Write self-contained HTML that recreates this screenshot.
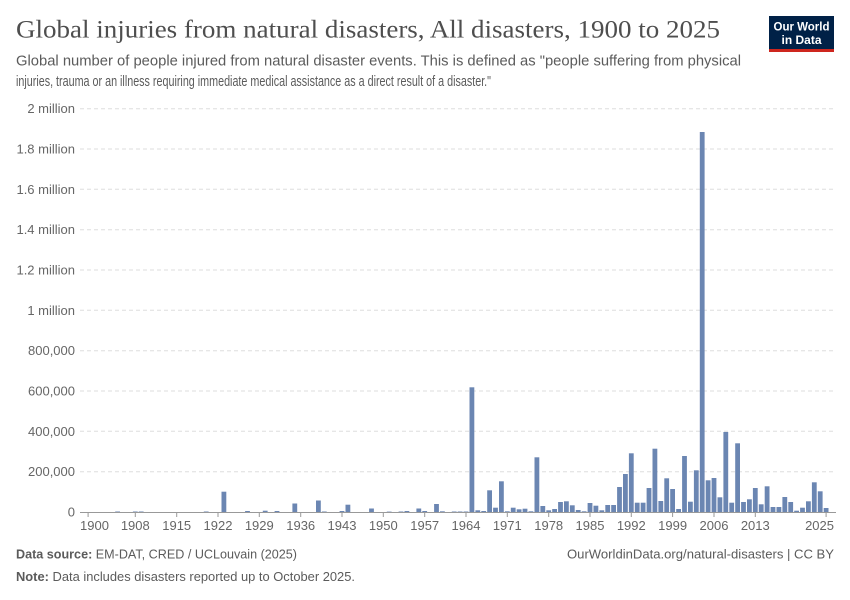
<!DOCTYPE html>
<html><head><meta charset="utf-8"><style>
html,body{margin:0;padding:0;background:#fff;}
svg{display:block;}
text{font-family:"Liberation Sans",sans-serif;}
</style></head><body>
<svg width="850" height="600" viewBox="0 0 850 600" xmlns="http://www.w3.org/2000/svg">
<rect width="850" height="600" fill="#fff"/>
<text x="16" y="37.5" font-family="Liberation Serif, serif" style="font-family:'Liberation Serif',serif" font-size="25" fill="#4e4e4e" textLength="704" lengthAdjust="spacingAndGlyphs">Global injuries from natural disasters, All disasters, 1900 to 2025</text>
<text x="16" y="65.5" font-size="15" fill="#5b5b5b" textLength="725" lengthAdjust="spacingAndGlyphs">Global number of people injured from natural disaster events. This is defined as "people suffering from physical</text>
<text x="16" y="86" font-size="15" fill="#5b5b5b" textLength="475" lengthAdjust="spacingAndGlyphs">injuries, trauma or an illness requiring immediate medical assistance as a direct result of a disaster."</text>
<rect x="769" y="16" width="65" height="33" fill="#002147"/>
<rect x="769" y="49" width="65" height="3" fill="#ce261e"/>
<text x="801.5" y="30.5" font-size="11.5" fill="#fff" text-anchor="middle" font-weight="bold" textLength="56" lengthAdjust="spacingAndGlyphs">Our World</text>
<text x="801.5" y="44" font-size="11.5" fill="#fff" text-anchor="middle" font-weight="bold" textLength="40" lengthAdjust="spacingAndGlyphs">in Data</text>
<g stroke="#dddddd" stroke-width="1" stroke-dasharray="4,3">
<line x1="80" x2="836" y1="108.7" y2="108.7"/>
<line x1="80" x2="836" y1="149" y2="149"/>
<line x1="80" x2="836" y1="189.3" y2="189.3"/>
<line x1="80" x2="836" y1="229.7" y2="229.7"/>
<line x1="80" x2="836" y1="270" y2="270"/>
<line x1="80" x2="836" y1="310.3" y2="310.3"/>
<line x1="80" x2="836" y1="350.7" y2="350.7"/>
<line x1="80" x2="836" y1="391" y2="391"/>
<line x1="80" x2="836" y1="431.3" y2="431.3"/>
<line x1="80" x2="836" y1="471.7" y2="471.7"/>
</g>
<g font-size="13" fill="#666" text-anchor="end">
<text x="75" y="113.2">2 million</text>
<text x="75" y="153.5">1.8 million</text>
<text x="75" y="193.8">1.6 million</text>
<text x="75" y="234.2">1.4 million</text>
<text x="75" y="274.5">1.2 million</text>
<text x="75" y="314.8">1 million</text>
<text x="75" y="355.2">800,000</text>
<text x="75" y="395.5">600,000</text>
<text x="75" y="435.8">400,000</text>
<text x="75" y="476.2">200,000</text>
<text x="75" y="516.5">0</text>
</g>
<g fill="#6b86b2">
<rect x="115.2" y="511.5" width="4.8" height="0.5"/>
<rect x="132.9" y="511.5" width="4.8" height="0.5"/>
<rect x="138.8" y="511.5" width="4.8" height="0.5"/>
<rect x="203.8" y="511.5" width="4.8" height="0.5"/>
<rect x="221.5" y="491.7" width="4.8" height="20.3"/>
<rect x="245.1" y="511" width="4.8" height="1"/>
<rect x="262.8" y="510.7" width="4.8" height="1.3"/>
<rect x="274.6" y="511" width="4.8" height="1"/>
<rect x="292.4" y="503.5" width="4.8" height="8.5"/>
<rect x="316.0" y="500.5" width="4.8" height="11.5"/>
<rect x="321.9" y="511.5" width="4.8" height="0.5"/>
<rect x="339.6" y="511" width="4.8" height="1"/>
<rect x="345.5" y="504.7" width="4.8" height="7.3"/>
<rect x="369.1" y="508.5" width="4.8" height="3.5"/>
<rect x="386.8" y="511.6" width="4.8" height="0.4"/>
<rect x="398.6" y="511.5" width="4.8" height="0.5"/>
<rect x="404.5" y="511" width="4.8" height="1"/>
<rect x="416.4" y="508.5" width="4.8" height="3.5"/>
<rect x="422.3" y="511" width="4.8" height="1"/>
<rect x="434.1" y="504" width="4.8" height="8"/>
<rect x="440.0" y="511.3" width="4.8" height="0.7"/>
<rect x="451.8" y="511.5" width="4.8" height="0.5"/>
<rect x="457.7" y="511.5" width="4.8" height="0.5"/>
<rect x="463.6" y="511.5" width="4.8" height="0.5"/>
<rect x="469.5" y="387.3" width="4.8" height="124.7"/>
<rect x="475.4" y="510.3" width="4.8" height="1.7"/>
<rect x="481.3" y="511" width="4.8" height="1"/>
<rect x="487.2" y="490.3" width="4.8" height="21.7"/>
<rect x="493.1" y="507.7" width="4.8" height="4.3"/>
<rect x="499.0" y="481.3" width="4.8" height="30.7"/>
<rect x="504.9" y="511.3" width="4.8" height="0.7"/>
<rect x="510.8" y="507.7" width="4.8" height="4.3"/>
<rect x="516.7" y="509.3" width="4.8" height="2.7"/>
<rect x="522.6" y="508.7" width="4.8" height="3.3"/>
<rect x="528.5" y="511.3" width="4.8" height="0.7"/>
<rect x="534.5" y="457.3" width="4.8" height="54.7"/>
<rect x="540.4" y="506" width="4.8" height="6"/>
<rect x="546.3" y="510.3" width="4.8" height="1.7"/>
<rect x="552.2" y="509" width="4.8" height="3"/>
<rect x="558.1" y="502" width="4.8" height="10"/>
<rect x="564.0" y="501.3" width="4.8" height="10.7"/>
<rect x="569.9" y="505.3" width="4.8" height="6.7"/>
<rect x="575.8" y="510" width="4.8" height="2"/>
<rect x="581.7" y="511.3" width="4.8" height="0.7"/>
<rect x="587.6" y="503" width="4.8" height="9"/>
<rect x="593.5" y="505.7" width="4.8" height="6.3"/>
<rect x="599.4" y="510.3" width="4.8" height="1.7"/>
<rect x="605.3" y="505" width="4.8" height="7"/>
<rect x="611.2" y="505" width="4.8" height="7"/>
<rect x="617.1" y="487" width="4.8" height="25"/>
<rect x="623.0" y="474" width="4.8" height="38"/>
<rect x="628.9" y="453.3" width="4.8" height="58.7"/>
<rect x="634.8" y="502.7" width="4.8" height="9.3"/>
<rect x="640.7" y="502.7" width="4.8" height="9.3"/>
<rect x="646.6" y="488" width="4.8" height="24"/>
<rect x="652.5" y="448.7" width="4.8" height="63.3"/>
<rect x="658.4" y="501" width="4.8" height="11"/>
<rect x="664.3" y="478.3" width="4.8" height="33.7"/>
<rect x="670.2" y="489" width="4.8" height="23"/>
<rect x="676.2" y="509" width="4.8" height="3"/>
<rect x="682.1" y="456" width="4.8" height="56"/>
<rect x="688.0" y="501.7" width="4.8" height="10.3"/>
<rect x="693.9" y="470.3" width="4.8" height="41.7"/>
<rect x="699.8" y="132" width="4.8" height="380"/>
<rect x="705.7" y="480.3" width="4.8" height="31.7"/>
<rect x="711.6" y="478" width="4.8" height="34"/>
<rect x="717.5" y="497.3" width="4.8" height="14.7"/>
<rect x="723.4" y="432" width="4.8" height="80"/>
<rect x="729.3" y="502.7" width="4.8" height="9.3"/>
<rect x="735.2" y="443.3" width="4.8" height="68.7"/>
<rect x="741.1" y="502" width="4.8" height="10"/>
<rect x="747.0" y="499.3" width="4.8" height="12.7"/>
<rect x="752.9" y="488" width="4.8" height="24"/>
<rect x="758.8" y="504.3" width="4.8" height="7.7"/>
<rect x="764.7" y="486.3" width="4.8" height="25.7"/>
<rect x="770.6" y="507" width="4.8" height="5"/>
<rect x="776.5" y="507" width="4.8" height="5"/>
<rect x="782.4" y="497" width="4.8" height="15"/>
<rect x="788.3" y="502" width="4.8" height="10"/>
<rect x="794.2" y="510.7" width="4.8" height="1.3"/>
<rect x="800.1" y="507.7" width="4.8" height="4.3"/>
<rect x="806.0" y="501.3" width="4.8" height="10.7"/>
<rect x="811.9" y="482.3" width="4.8" height="29.7"/>
<rect x="817.8" y="491.3" width="4.8" height="20.7"/>
<rect x="823.7" y="508" width="4.8" height="4"/>
</g>
<line x1="80" x2="836" y1="512.5" y2="512.5" stroke="#999" stroke-width="1"/>
<g stroke="#999" stroke-width="1">
<line x1="88.1" x2="88.1" y1="512" y2="517"/>
<line x1="135.3" x2="135.3" y1="512" y2="517"/>
<line x1="176.7" x2="176.7" y1="512" y2="517"/>
<line x1="218.0" x2="218.0" y1="512" y2="517"/>
<line x1="259.3" x2="259.3" y1="512" y2="517"/>
<line x1="300.7" x2="300.7" y1="512" y2="517"/>
<line x1="342.0" x2="342.0" y1="512" y2="517"/>
<line x1="383.3" x2="383.3" y1="512" y2="517"/>
<line x1="424.7" x2="424.7" y1="512" y2="517"/>
<line x1="466.0" x2="466.0" y1="512" y2="517"/>
<line x1="507.3" x2="507.3" y1="512" y2="517"/>
<line x1="548.7" x2="548.7" y1="512" y2="517"/>
<line x1="590.0" x2="590.0" y1="512" y2="517"/>
<line x1="631.3" x2="631.3" y1="512" y2="517"/>
<line x1="672.6" x2="672.6" y1="512" y2="517"/>
<line x1="714.0" x2="714.0" y1="512" y2="517"/>
<line x1="755.3" x2="755.3" y1="512" y2="517"/>
<line x1="826.1" x2="826.1" y1="512" y2="517"/>
</g>
<g font-size="13" fill="#666" text-anchor="middle">
<text x="80" y="530" text-anchor="start">1900</text>
<text x="135.3" y="530">1908</text>
<text x="176.7" y="530">1915</text>
<text x="218.0" y="530">1922</text>
<text x="259.3" y="530">1929</text>
<text x="300.7" y="530">1936</text>
<text x="342.0" y="530">1943</text>
<text x="383.3" y="530">1950</text>
<text x="424.7" y="530">1957</text>
<text x="466.0" y="530">1964</text>
<text x="507.3" y="530">1971</text>
<text x="548.7" y="530">1978</text>
<text x="590.0" y="530">1985</text>
<text x="631.3" y="530">1992</text>
<text x="672.6" y="530">1999</text>
<text x="714.0" y="530">2006</text>
<text x="755.3" y="530">2013</text>
<text x="834" y="530" text-anchor="end">2025</text>
</g>
<text x="16" y="558.5" font-size="13" fill="#5b5b5b" textLength="281" lengthAdjust="spacingAndGlyphs"><tspan font-weight="bold">Data source:</tspan> EM-DAT, CRED / UCLouvain (2025)</text>
<text x="834" y="558.5" font-size="13" fill="#5b5b5b" text-anchor="end" textLength="267" lengthAdjust="spacingAndGlyphs">OurWorldinData.org/natural-disasters | CC BY</text>
<text x="16" y="581" font-size="13" fill="#5b5b5b" textLength="339" lengthAdjust="spacingAndGlyphs"><tspan font-weight="bold">Note:</tspan> Data includes disasters reported up to October 2025.</text>
</svg>
</body></html>
